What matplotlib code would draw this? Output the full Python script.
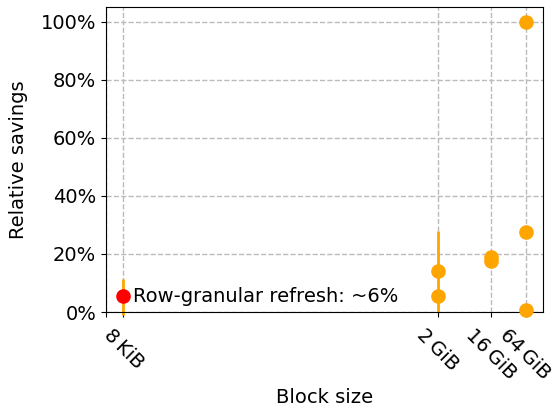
import matplotlib
matplotlib.use("Agg")
import matplotlib.pyplot as plt
import matplotlib.ticker as mticker
import numpy as np

# Data (block size in bytes, relative savings as fraction)
block_sizes = [2**31, 2**31, 2**34, 2**34, 2**36, 2**36, 2**36]
savings = [0.141, 0.055, 0.19, 0.175, 1.0, 0.275, 0.007]
# vertical range bars (min, max) per block size
range_x = [2**13, 2**31, 2**34]
range_lo = [-0.01, 0.0, 0.175]
range_hi = [0.114, 0.28, 0.19]
row_x = [2**13]
row_y = [0.055]
tick_pos = [2**12, 2**13, 2**31, 2**34, 2**36]
tick_labels = ["", "8\u2009KiB", "2\u2009GiB", "16\u2009GiB", "64\u2009GiB"]

fig = plt.figure(figsize=(5.53, 4.09), dpi=100)
ax = fig.add_axes([106/553, 1-312/409, (543-106)/553, (312-7)/409])
ax.set_xscale("log", base=2)

ax.vlines(range_x, range_lo, range_hi, color="orange", lw=2, zorder=2, clip_on=False)
ax.plot(block_sizes, savings, "o", color="orange", ms=9.5, zorder=3, clip_on=False)
ax.plot(row_x, row_y, "o", color="red", ms=9.5, zorder=4)
ax.text(2**13 * 1.45, row_y[0], "Row-granular refresh: ~6%", fontsize=14,
        va="center", ha="left")

ax.set_xlim(2**12, 2**37)
ax.set_ylim(0, 1.05)
ax.set_xticks(tick_pos)
ax.set_xticklabels(tick_labels, rotation=-45, ha="center", fontsize=14)
ax.tick_params(axis="x", pad=6)
ax.xaxis.set_minor_locator(mticker.NullLocator())
ax.set_yticks([0, 0.2, 0.4, 0.6, 0.8, 1.0])
ax.yaxis.set_major_formatter(mticker.FuncFormatter(lambda v, p: f"{v*100:.0f}%"))
ax.tick_params(axis="y", labelsize=14)
ax.grid(True, ls="--", color="#bbbbbb", lw=1)
ax.set_axisbelow(True)
ax.set_xlabel("Block size", fontsize=14, labelpad=4)
ax.set_ylabel("Relative savings", fontsize=14, labelpad=9)

fig.savefig("out.png", dpi=100)
